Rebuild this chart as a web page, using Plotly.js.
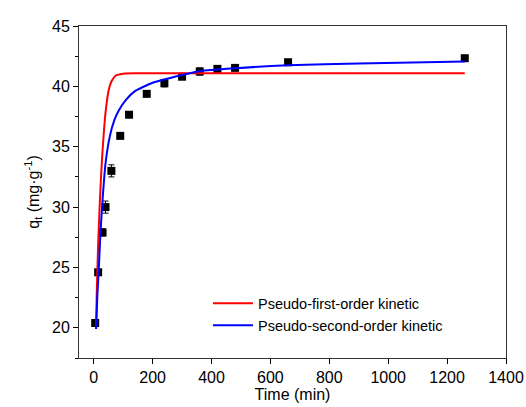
<!DOCTYPE html>
<html>
<head>
<meta charset="utf-8">
<script src="https://cdn.plot.ly/plotly-3.0.1.min.js"></script>
<style>html,body{margin:0;padding:0;background:#fff;}#chart{width:526px;height:407px;}</style>
</head>
<body>
<div id="chart"></div>
<script>
// Experimental data
const timeData = [5, 15, 30, 40, 60, 90, 120, 180, 240, 300, 360, 420, 480, 660, 1260];
const qtData = [20.4, 24.6, 27.9, 30.0, 33.0, 35.9, 37.65, 39.38, 40.26, 40.8, 41.23, 41.45, 41.53, 42.0, 42.33];
const qtErr = [0.2, 0.2, 0.3, 0.5, 0.5, 0.2, 0.2, 0.2, 0.3, 0.2, 0.3, 0.2, 0.2, 0.2, 0.2];

// Pseudo-first-order fitted curve
const pfoTime = [8, 10, 15, 20, 25, 30, 35, 40, 50, 60, 75, 100, 150, 400, 800, 1260];
const pfoQt = [19.9, 22.6, 26.9, 30.0, 32.6, 34.7, 36.4, 37.8, 39.6, 40.4, 40.9, 41.05, 41.08, 41.08, 41.08, 41.08];

// Pseudo-second-order fitted curve
const psoTime = [8, 12, 17, 23, 30, 40, 55, 70, 85, 110, 140, 200, 260, 360, 480, 660, 900, 1260];
const psoQt = [19.9, 22.5, 24.8, 27.9, 30.6, 33.6, 35.9, 37.2, 38.0, 38.9, 39.6, 40.3, 40.7, 41.25, 41.5, 41.75, 41.9, 42.05];

const font = 'Arial, "Liberation Sans", sans-serif';

const traces = [
  {
    x: timeData, y: qtData, type: 'scatter', mode: 'markers', showlegend: false,
    marker: {symbol: 'square', size: 8, color: '#000'},
    error_y: {type: 'data', array: qtErr, visible: true, color: '#000', thickness: 1, width: 3}
  },
  {
    x: pfoTime, y: pfoQt, type: 'scatter', mode: 'lines', name: 'Pseudo-first-order kinetic',
    line: {color: '#ff0000', width: 2, shape: 'spline', smoothing: 0.6}
  },
  {
    x: psoTime, y: psoQt, type: 'scatter', mode: 'lines', name: 'Pseudo-second-order kinetic',
    line: {color: '#0000ff', width: 2, shape: 'spline', smoothing: 0.6}
  }
];

const layout = {
  width: 526, height: 407,
  margin: {l: 79, r: 20, t: 26, b: 49},
  paper_bgcolor: '#fff', plot_bgcolor: '#fff',
  font: {family: font, size: 16, color: '#000'},
  showlegend: true,
  legend: {
    x: 0.302, y: 0.05, xanchor: 'left', yanchor: 'bottom',
    bgcolor: 'rgba(0,0,0,0)', font: {family: font, size: 14.5, color: '#000'},
    tracegroupgap: 0, itemwidth: 40
  },
  xaxis: {
    range: [-50, 1400], tickvals: [0, 200, 400, 600, 800, 1000, 1200, 1400],
    ticks: 'outside', ticklen: 5, tickwidth: 1, tickcolor: '#000',
    showline: true, linecolor: '#333', linewidth: 1, mirror: true,
    showgrid: false, zeroline: false,
    tickfont: {family: font, size: 16},
    title: {text: 'Time (min)', font: {family: font, size: 16}, standoff: 2}
  },
  yaxis: {
    range: [17.5, 45], tickvals: [20, 25, 30, 35, 40, 45],
    ticks: 'outside', ticklen: 5, tickwidth: 1, tickcolor: '#000',
    minor: {dtick: 2.5, ticks: 'outside', ticklen: 3, tickcolor: '#000', showgrid: false},
    showline: true, linecolor: '#333', linewidth: 1, mirror: true,
    showgrid: false, zeroline: false,
    tickfont: {family: font, size: 16},
    title: {text: 'q<sub>t</sub> (mg·g<sup>-1</sup>)', font: {family: font, size: 16}, standoff: 8}
  }
};

Plotly.newPlot('chart', traces, layout, {displayModeBar: false, staticPlot: true});
</script>
</body>
</html>
